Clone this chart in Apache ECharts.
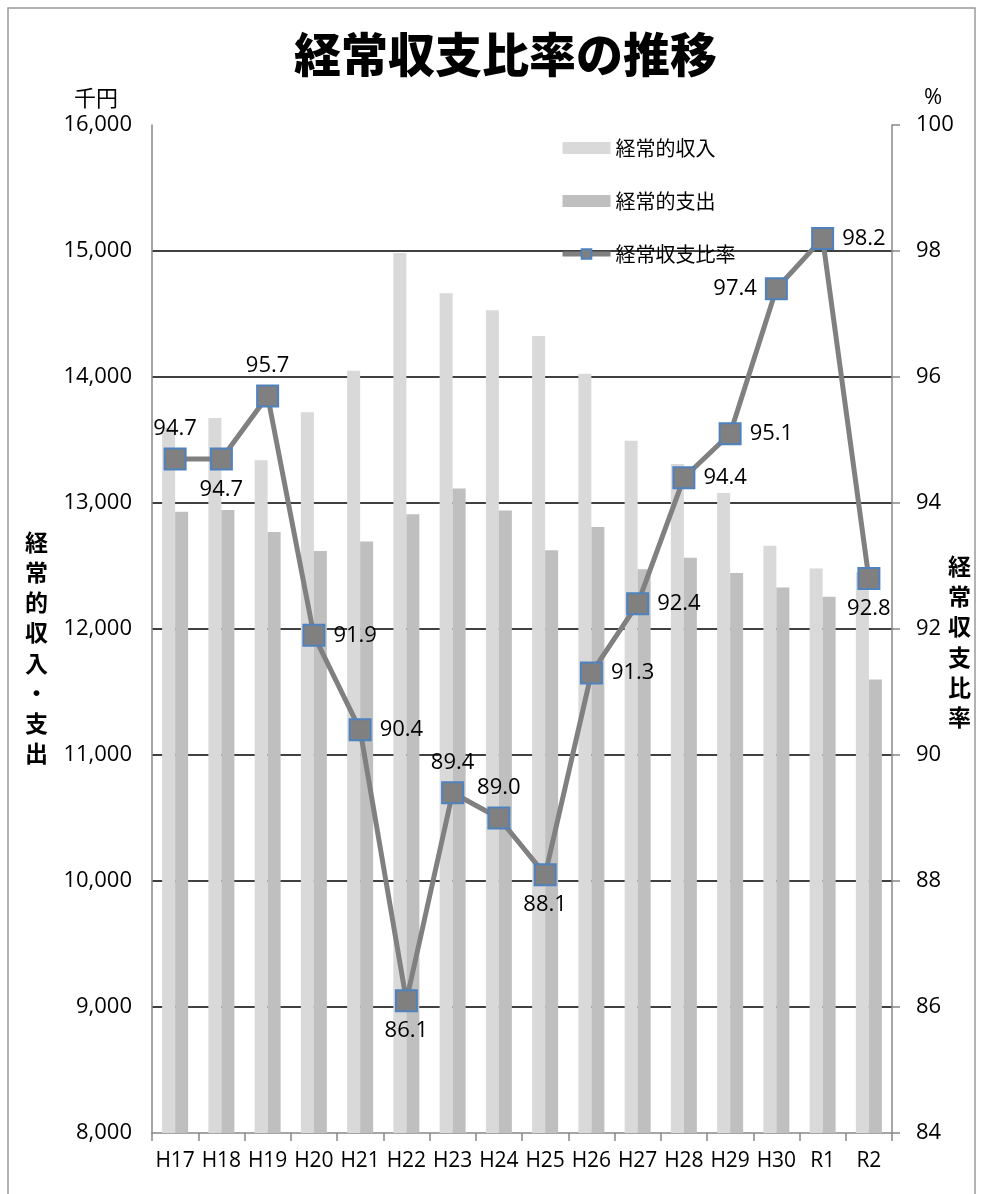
<!DOCTYPE html>
<html>
<head>
<meta charset="utf-8">
<script src="https://cdn.jsdelivr.net/npm/echarts@6/dist/echarts.min.js"></script>
<style>
  html, body { margin: 0; padding: 0; background: #fff; }
  #chart { width: 982px; height: 1194px; }
</style>
</head>
<body>
<div id="chart"></div>
<script>
// 年度
const categories = ['H17','H18','H19','H20','H21','H22','H23','H24','H25','H26','H27','H28','H29','H30','R1','R2'];
// 経常的収入（千円）
const income = [13600, 13675, 13340, 13720, 14050, 14985, 14665, 14530, 14325, 14025, 13495, 13310, 13080, 12660, 12480, 12450];
// 経常的支出（千円）
const expense = [12930, 12945, 12770, 12620, 12695, 12910, 13115, 12940, 12625, 12810, 12475, 12565, 12445, 12330, 12255, 11600];
// 経常収支比率（%）
const ratio = [94.7, 94.7, 95.7, 91.9, 90.4, 86.1, 89.4, 89.0, 88.1, 91.3, 92.4, 94.4, 95.1, 97.4, 98.2, 92.8];
// 比率ラベルの表示位置
const ratioLabelPos = ['top','bottom','top','right','right','bottom','top','top','bottom','right','right','right','right','left','right','bottom'];

const NUM_FONT = 'Open Sans';
const JP_FONT = '"Noto Sans CJK JP"';

const chart = echarts.init(document.getElementById('chart'), null, { renderer: 'canvas' });

chart.setOption({
  animation: false,
  backgroundColor: '#ffffff',
  title: {
    text: '経常収支比率の推移',
    left: 289,
    top: 26,
    textStyle: { fontFamily: JP_FONT, fontWeight: 900, fontSize: 47, color: '#000' }
  },
  legend: {
    orient: 'vertical',
    left: 555,
    top: 133,
    itemWidth: 48,
    itemHeight: 12,
    itemGap: 33,
    textStyle: { fontFamily: JP_FONT, fontSize: 20, color: '#000' },
    data: [
      { name: '経常的収入', icon: 'rect' },
      { name: '経常的支出', icon: 'rect' },
      { name: '経常収支比率', lineStyle: { width: 5, color: '#808080' } }
    ]
  },
  grid: { left: 152, right: 90, top: 125, bottom: 61 },
  xAxis: {
    type: 'category',
    data: categories,
    axisLine: { lineStyle: { color: '#888', width: 1.5 } },
    axisTick: { show: true, length: 8, lineStyle: { color: '#888', width: 1.5 } },
    axisLabel: { fontFamily: NUM_FONT, fontSize: 21, color: '#000', margin: 18, interval: 0 }
  },
  yAxis: [
    {
      type: 'value',
      min: 8000,
      max: 16000,
      interval: 1000,
      axisLine: { show: true, lineStyle: { color: '#888', width: 1.5 } },
      axisTick: { show: false },
      axisLabel: {
        fontFamily: NUM_FONT, fontSize: 22, color: '#000', margin: 20,
        formatter: v => v.toLocaleString('en-US')
      },
      splitLine: { show: true, showMinLine: false, showMaxLine: false, lineStyle: { color: '#000', width: 1.5 } }
    },
    {
      type: 'value',
      min: 84,
      max: 100,
      interval: 2,
      position: 'right',
      axisLine: { show: true, lineStyle: { color: '#888', width: 1.5 } },
      axisTick: { show: true, inside: false, length: 8, lineStyle: { color: '#888', width: 1.5 } },
      axisLabel: { fontFamily: NUM_FONT, fontSize: 22, color: '#000', margin: 24 },
      splitLine: { show: false }
    }
  ],
  series: [
    {
      name: '経常的収入',
      type: 'bar',
      data: income,
      barWidth: 13,
      barGap: '0%',
      itemStyle: { color: '#d9d9d9' },
      yAxisIndex: 0
    },
    {
      name: '経常的支出',
      type: 'bar',
      data: expense,
      barWidth: 13,
      itemStyle: { color: '#bfbfbf' },
      yAxisIndex: 0
    },
    {
      name: '経常収支比率',
      type: 'line',
      yAxisIndex: 1,
      data: ratio.map((v, i) => ({
        value: v,
        label: { position: ratioLabelPos[i] }
      })),
      symbol: 'rect',
      symbolSize: 21,
      lineStyle: { color: '#808080', width: 5 },
      itemStyle: { color: '#808080', borderColor: '#4f81bd', borderWidth: 2 },
      label: {
        show: true,
        distance: 8,
        fontFamily: NUM_FONT,
        fontSize: 22,
        color: '#000',
        formatter: p => p.value.toFixed(1)
      },
      z: 5
    }
  ],
  graphic: [
    {
      type: 'rect',
      shape: { x: 8, y: 8, width: 967, height: 1200 },
      style: { fill: 'none', stroke: '#999', lineWidth: 1.5 },
      silent: true
    },
    {
      type: 'text', left: 74, top: 87,
      style: { text: '千円', fontFamily: JP_FONT, fontSize: 22, fill: '#000' }
    },
    {
      type: 'text', left: 924, top: 87,
      style: { text: '%', fontFamily: NUM_FONT, fontSize: 22, fill: '#000' }
    },
    {
      type: 'text', left: 25, top: 527,
      style: {
        text: '経\n常\n的\n収\n入\n・\n支\n出',
        fontFamily: JP_FONT, fontWeight: 'bold', fontSize: 23, lineHeight: 30.2,
        fill: '#000', align: 'center'
      }
    },
    {
      type: 'text', left: 948, top: 551,
      style: {
        text: '経\n常\n収\n支\n比\n率',
        fontFamily: JP_FONT, fontWeight: 'bold', fontSize: 23, lineHeight: 30.3,
        fill: '#000', align: 'center'
      }
    }
  ]
});
</script>
</body>
</html>
